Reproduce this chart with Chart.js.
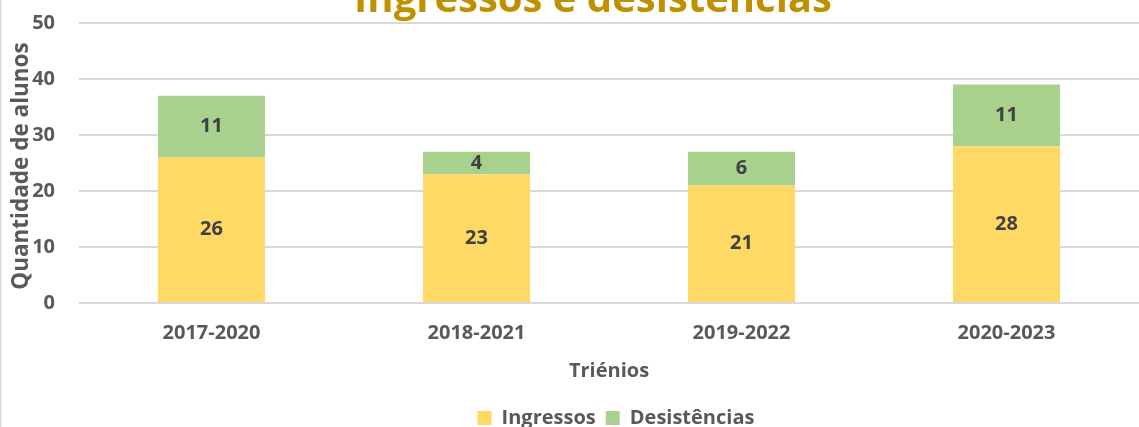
<!DOCTYPE html>
<html>
<head>
<meta charset="utf-8">
<script src="https://cdn.jsdelivr.net/npm/chart.js@4"></script>
<style>
  html, body { margin: 0; padding: 0; background: #fff; overflow: hidden; }
  body { width: 1139px; height: 427px; }
  #wrap { position: absolute; left: 0; top: 0; width: 1139px; height: 438px; }
</style>
</head>
<body>
<div id="wrap"><canvas id="c"></canvas></div>
<script>
const categories = ['2017-2020', '2018-2021', '2019-2022', '2020-2023'];
const ingressos = [26, 23, 21, 28];
const desistencias = [11, 4, 6, 11];
const seriesNames = ['Ingressos', 'Desistências'];
const chartTitle = 'Ingressos e desistências';
const yTitle = 'Quantidade de alunos';
const xTitle = 'Triénios';

const FONT = '"Open Sans", Lato, sans-serif';

const overlay = {
  id: 'overlay',
  afterLayout(chart) {
    if (chart.legend) { chart.legend.left += 7; chart.legend.right += 7; }
  },
  afterDatasetsDraw(chart) {
    const ctx = chart.ctx;
    ctx.save();
    ctx.font = 'bold 20px ' + FONT;
    ctx.fillStyle = '#404040';
    ctx.textAlign = 'center';
    ctx.textBaseline = 'middle';
    chart.data.datasets.forEach((ds, di) => {
      const meta = chart.getDatasetMeta(di);
      meta.data.forEach((bar, i) => {
        const p = bar.getProps(['x', 'y', 'base'], true);
        ctx.fillText(String(ds.data[i]), p.x, (p.y + p.base) / 2);
      });
    });
    ctx.restore();
  },
  afterDraw(chart) {
    const ctx = chart.ctx;
    ctx.save();
    ctx.fillStyle = '#D9D9D9';
    ctx.fillRect(0, 0, 1.5, chart.height);
    ctx.font = 'bold 40px ' + FONT;
    ctx.fillStyle = '#BF9000';
    ctx.textAlign = 'center';
    ctx.textBaseline = 'alphabetic';
    ctx.fillText(chartTitle, 593, 12);
    ctx.translate(22, 166);
    ctx.rotate(-Math.PI / 2);
    ctx.font = 'bold 22.5px ' + FONT;
    ctx.fillStyle = '#595959';
    ctx.textBaseline = 'middle';
    ctx.fillText(yTitle, 0, 0);
    ctx.restore();
  }
};

new Chart(document.getElementById('c'), {
  type: 'bar',
  data: {
    labels: categories,
    datasets: [
      { label: seriesNames[0], data: ingressos, backgroundColor: '#FFD966', borderWidth: 0 },
      { label: seriesNames[1], data: desistencias, backgroundColor: '#A9D18E', borderWidth: 0 }
    ]
  },
  options: {
    responsive: true,
    maintainAspectRatio: false,
    animation: false,
    devicePixelRatio: 1,
    layout: { padding: { top: 23, left: 0, right: 0, bottom: 0 } },
    datasets: { bar: { categoryPercentage: 1, barPercentage: 0.404 } },
    scales: {
      x: {
        stacked: true,
        grid: { display: false, drawTicks: false },
        border: { display: false },
        ticks: { font: { family: FONT, size: 20, weight: 'bold' }, color: '#595959', padding: 18 },
        title: { display: true, text: xTitle, font: { family: FONT, size: 20, weight: 'bold' }, color: '#595959', padding: { top: -4, bottom: 15 } }
      },
      y: {
        stacked: true,
        min: 0, max: 50,
        afterFit(s) { s.width = 79; s.paddingTop = 0; s.paddingBottom = 0; },
        grid: { color: '#D9D9D9', lineWidth: 2, drawTicks: false },
        border: { display: false },
        ticks: { stepSize: 10, font: { family: FONT, size: 20, weight: 'bold' }, color: '#595959', padding: 24 }
      }
    },
    plugins: {
      title: { display: false },
      tooltip: { enabled: false },
      legend: {
        position: 'bottom',
        fullSize: false,
        labels: { boxWidth: 14, boxHeight: 14, padding: 10, color: '#595959', font: { family: FONT, size: 20, weight: 'bold' } }
      }
    }
  },
  plugins: [overlay]
});
</script>
</body>
</html>
